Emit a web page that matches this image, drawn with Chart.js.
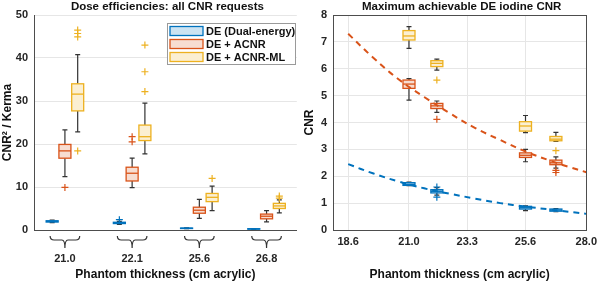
<!DOCTYPE html>
<html>
<head>
<meta charset="utf-8">
<script src="https://cdn.jsdelivr.net/npm/chart.js@4/dist/chart.umd.min.js"></script>
<style>
  html, body { margin: 0; padding: 0; background: #fff; }
  #wrap { width: 602px; height: 282px; display: flex; }
  canvas { display: block; }
</style>
</head>
<body>
<div id="wrap">
  <canvas id="chart_eff" width="302" height="282"></canvas>
  <canvas id="chart_cnr" width="300" height="282"></canvas>
</div>
<script>
const thicknessLabels = ['21.0', '22.1', '25.6', '26.8'];
const thicknessValues = [21.0, 22.1, 25.6, 26.8];
const seriesNames = ['DE (Dual-energy)', 'DE + ACNR', 'DE + ACNR-ML'];

// box stats: [whisker low, q1, median, q3, whisker high]
const effDE = [[1.7, 1.85, 2.0, 2.15, 2.3], [1.3, 1.5, 1.65, 1.8, 2.0], [0.3, 0.35, 0.4, 0.45, 0.5], [0.15, 0.2, 0.25, 0.3, 0.35]];
const effACNR = [[12.4, 16.7, 18.4, 19.9, 23.3], [9.85, 11.4, 13.2, 14.6, 16.7], [2.7, 3.9, 4.6, 5.3, 7.1], [1.9, 2.6, 3.2, 3.7, 4.5]];
const effML = [[22.8, 27.7, 31.6, 34.0, 40.8], [17.7, 20.8, 21.7, 24.4, 29.5], [4.5, 6.6, 7.6, 8.5, 10.2], [4.0, 5.0, 5.6, 6.2, 7.0]];
const effDEOut = [[], [2.4], [], []];
const effACNROut = [[9.9], [20.5, 21.7], [], []];
const effMLOut = [[18.4, 44.9, 45.7, 46.5], [32.2, 36.8, 43.0], [12.0], [7.4, 7.9]];

const cnrDE = [[1.65, 1.66, 1.7, 1.76, 1.78], [1.3, 1.38, 1.44, 1.5, 1.58], [0.72, 0.78, 0.83, 0.88, 0.9], [0.68, 0.7, 0.74, 0.78, 0.8]];
const cnrACNR = [[4.83, 5.27, 5.43, 5.58, 5.63], [4.38, 4.52, 4.62, 4.71, 4.8], [2.54, 2.7, 2.78, 2.87, 3.0], [2.3, 2.43, 2.5, 2.6, 2.72]];
const cnrML = [[6.76, 7.07, 7.22, 7.42, 7.57], [5.95, 6.08, 6.2, 6.3, 6.36], [3.62, 3.68, 3.87, 4.03, 4.26], [3.3, 3.32, 3.38, 3.48, 3.63]];
const cnrDEOut = [[], [1.22, 1.6], [], []];
const cnrACNROut = [[], [4.12], [], [2.14, 2.22]];
const cnrMLOut = [[], [5.58], [], [2.95]];

// dashed fit curves
const fitX = [18.6, 19.6, 20.6, 21.6, 22.6, 23.6, 24.6, 25.6, 26.6, 27.3, 28.0];
const fitACNR = [7.3, 6.4, 5.6, 4.95, 4.35, 3.8, 3.35, 2.92, 2.57, 2.35, 2.15];
const fitDE = [2.45, 2.1, 1.8, 1.55, 1.35, 1.17, 1.0, 0.87, 0.76, 0.68, 0.6];
const cnrXTicks = [18.6, 21.0, 23.3, 25.6, 28.0];

const colors = ['#0072BD', '#D95319', '#EDB120'];
const fills = ['rgba(0,114,189,0.2)', 'rgba(217,83,25,0.2)', 'rgba(237,177,32,0.2)'];
const axisColor = '#4d4d4d';
const gridColor = '#e6e6e6';
const fontFam = '"Liberation Sans", Arial, sans-serif';

Chart.defaults.font.family = fontFam;
Chart.defaults.color = '#262626';

function outlierPoints(out, xs, dx) {
  const pts = [];
  out.forEach(function (vals, i) {
    vals.forEach(function (v) { pts.push({ x: xs[i] + dx, y: v }); });
  });
  return pts;
}

function drawBox(ctx, xScale, yScale, xv, s, k) {
  const cx = xScale.getPixelForValue(xv);
  const y = s.map(function (v) { return yScale.getPixelForValue(v); });
  const hw = 6, cap = 2.5;
  ctx.save();
  ctx.strokeStyle = '#333';
  ctx.lineWidth = 1.2;
  ctx.beginPath();
  ctx.moveTo(cx, y[0]); ctx.lineTo(cx, y[1]);
  ctx.moveTo(cx, y[3]); ctx.lineTo(cx, y[4]);
  ctx.moveTo(cx - cap, y[0]); ctx.lineTo(cx + cap, y[0]);
  ctx.moveTo(cx - cap, y[4]); ctx.lineTo(cx + cap, y[4]);
  ctx.stroke();
  ctx.fillStyle = '#fff';
  ctx.fillRect(cx - hw, y[3], hw * 2, y[1] - y[3]);
  ctx.fillStyle = fills[k];
  ctx.fillRect(cx - hw, y[3], hw * 2, y[1] - y[3]);
  ctx.strokeStyle = colors[k];
  ctx.lineWidth = 1.3;
  ctx.strokeRect(cx - hw, y[3], hw * 2, y[1] - y[3]);
  ctx.beginPath();
  ctx.moveTo(cx - hw, y[2]); ctx.lineTo(cx + hw, y[2]);
  ctx.stroke();
  ctx.restore();
}

// title centred over the plot area, like the original axes titles
function axesTitle(text) {
  return {
    id: 'axesTitle',
    afterDraw(chart) {
      const a = chart.chartArea;
      const ctx = chart.ctx;
      ctx.save();
      ctx.font = 'bold 11.5px ' + fontFam;
      ctx.fillStyle = '#111';
      ctx.textAlign = 'center';
      ctx.textBaseline = 'middle';
      ctx.fillText(text, (a.left + a.right) / 2 + 2, 7);
      ctx.restore();
    }
  };
}

// ---------- left panel ----------
const catIdx = [0, 1, 2, 3];
const effSets = [effDE, effACNR, effML];
const effOut = [effDEOut, effACNROut, effMLOut];
const effDx = [-0.19, 0, 0.19];

const effBoxes = {
  id: 'effBoxes',
  beforeDatasetsDraw(chart) {
    const ctx = chart.ctx;
    effSets.forEach(function (set, k) {
      set.forEach(function (s, i) {
        drawBox(ctx, chart.scales.x, chart.scales.y, catIdx[i] + effDx[k], s, k);
      });
    });
  },
  afterDraw(chart) {
    const ctx = chart.ctx;
    const xs = chart.scales.x;
    const top = chart.chartArea.bottom + 6;
    // braces under each group
    ctx.save();
    ctx.strokeStyle = '#333';
    ctx.lineWidth = 1.2;
    catIdx.forEach(function (i) {
      const l = xs.getPixelForValue(i - 0.22);
      const r = xs.getPixelForValue(i + 0.22);
      const c = xs.getPixelForValue(i);
      ctx.beginPath();
      ctx.moveTo(l, top);
      ctx.quadraticCurveTo(l, top + 4, l + 4, top + 4);
      ctx.lineTo(c - 3, top + 4);
      ctx.quadraticCurveTo(c, top + 4, c, top + 12);
      ctx.quadraticCurveTo(c, top + 4, c + 3, top + 4);
      ctx.lineTo(r - 4, top + 4);
      ctx.quadraticCurveTo(r, top + 4, r, top);
      ctx.stroke();
    });
    // legend
    const lx = 167, ly = 23, lw = 128, lh = 41;
    ctx.fillStyle = '#fff';
    ctx.fillRect(lx, ly, lw, lh);
    ctx.strokeStyle = '#9a9a9a';
    ctx.lineWidth = 1;
    ctx.strokeRect(lx + 0.5, ly + 0.5, lw, lh);
    ctx.font = 'bold 11px ' + fontFam;
    ctx.textBaseline = 'middle';
    seriesNames.forEach(function (name, k) {
      const ry = ly + 8 + k * 13;
      ctx.fillStyle = fills[k];
      ctx.fillRect(lx + 3, ry - 4.5, 33, 9);
      ctx.strokeStyle = colors[k];
      ctx.lineWidth = 1.3;
      ctx.strokeRect(lx + 3, ry - 4.5, 33, 9);
      ctx.fillStyle = '#111';
      ctx.fillText(name, lx + 39, ry + 0.5);
    });
    ctx.restore();
  }
};

new Chart(document.getElementById('chart_eff'), {
  type: 'scatter',
  data: {
    datasets: effOut.map(function (out, k) {
      return {
        data: outlierPoints(out, catIdx, effDx[k]),
        pointStyle: 'cross',
        radius: 3.5,
        borderWidth: 1.2,
        borderColor: colors[k],
        backgroundColor: colors[k]
      };
    })
  },
  options: {
    responsive: false,
    animation: false,
    layout: { padding: { left: 0, right: 0, top: 15, bottom: 0 } },
    plugins: {
      legend: { display: false },
      tooltip: { enabled: false },
      title: { display: false }
    },
    scales: {
      x: {
        type: 'linear',
        min: -0.46,
        max: 3.45,
        afterBuildTicks: function (axis) {
          axis.ticks = catIdx.map(function (v) { return { value: v }; });
        },
        afterFit: function (axis) { axis.height = 52; },
        ticks: {
          padding: 22,
          maxRotation: 0,
          font: { size: 11, weight: 'bold' },
          callback: function (v) { return thicknessLabels[v]; }
        },
        grid: { display: false, drawTicks: false },
        border: { color: axisColor, width: 1 },
        title: {
          display: true,
          text: 'Phantom thickness (cm acrylic)',
          font: { size: 12, weight: 'bold' },
          color: '#111',
          padding: { top: 0, bottom: 0 }
        }
      },
      y: {
        min: 0,
        max: 50,
        afterFit: function (axis) { axis.width = 34; },
        ticks: { stepSize: 10, padding: 6, font: { size: 11, weight: 'bold' } },
        grid: { color: gridColor, drawTicks: false },
        border: { color: axisColor, width: 1 },
        title: {
          display: true,
          text: 'CNR² / Kerma',
          font: { size: 12, weight: 'bold' },
          color: '#111',
          padding: { top: 0, bottom: 0 }
        }
      }
    }
  },
  plugins: [effBoxes, axesTitle('Dose efficiencies: all CNR requests')]
});

// ---------- right panel ----------
const cnrSets = [cnrDE, cnrACNR, cnrML];
const cnrOut = [cnrDEOut, cnrACNROut, cnrMLOut];

const cnrBoxes = {
  id: 'cnrBoxes',
  beforeDatasetsDraw(chart) {
    const ctx = chart.ctx;
    cnrSets.forEach(function (set, k) {
      set.forEach(function (s, i) {
        drawBox(ctx, chart.scales.x, chart.scales.y, thicknessValues[i], s, k);
      });
    });
  },
  afterDraw(chart) {
    const a = chart.chartArea;
    const ctx = chart.ctx;
    ctx.save();
    ctx.strokeStyle = axisColor;
    ctx.lineWidth = 1;
    ctx.strokeRect(Math.round(a.left) + 0.5, Math.round(a.top) + 0.5, Math.round(a.right - a.left), Math.round(a.bottom - a.top));
    ctx.restore();
  }
};

const cnrDatasets = cnrOut.map(function (out, k) {
  return {
    type: 'scatter',
    data: outlierPoints(out, thicknessValues, 0),
    pointStyle: 'cross',
    radius: 3.5,
    borderWidth: 1.2,
    borderColor: colors[k],
    backgroundColor: colors[k]
  };
});
cnrDatasets.push({
  type: 'line',
  data: fitX.map(function (x, i) { return { x: x, y: fitACNR[i] }; }),
  borderColor: colors[1],
  borderWidth: 2,
  borderDash: [6, 5],
  pointRadius: 0,
  tension: 0.4,
  fill: false
});
cnrDatasets.push({
  type: 'line',
  data: fitX.map(function (x, i) { return { x: x, y: fitDE[i] }; }),
  borderColor: colors[0],
  borderWidth: 2,
  borderDash: [6, 5],
  pointRadius: 0,
  tension: 0.4,
  fill: false
});

new Chart(document.getElementById('chart_cnr'), {
  type: 'scatter',
  data: { datasets: cnrDatasets },
  options: {
    responsive: false,
    animation: false,
    layout: { padding: { left: 0, right: 14, top: 15, bottom: 0 } },
    plugins: {
      legend: { display: false },
      tooltip: { enabled: false },
      title: { display: false }
    },
    scales: {
      x: {
        type: 'linear',
        min: 18,
        max: 28,
        afterBuildTicks: function (axis) {
          axis.ticks = cnrXTicks.map(function (v) { return { value: v }; });
        },
        afterFit: function (axis) { axis.height = 52; },
        ticks: {
          padding: 5,
          maxRotation: 0,
          font: { size: 11, weight: 'bold' },
          callback: function (v) { return v.toFixed(1); }
        },
        grid: { color: gridColor, drawTicks: false },
        border: { color: axisColor, width: 1 },
        title: {
          display: true,
          text: 'Phantom thickness (cm acrylic)',
          font: { size: 12, weight: 'bold' },
          color: '#111',
          padding: { top: 0, bottom: 0 }
        }
      },
      y: {
        min: 0,
        max: 8,
        afterFit: function (axis) { axis.width = 31; },
        ticks: { stepSize: 1, padding: 6, font: { size: 11, weight: 'bold' } },
        grid: { color: gridColor, drawTicks: false },
        border: { color: axisColor, width: 1 },
        title: {
          display: true,
          text: 'CNR',
          font: { size: 12, weight: 'bold' },
          color: '#111',
          padding: { top: 0, bottom: 0 }
        }
      }
    }
  },
  plugins: [cnrBoxes, axesTitle('Maximum achievable DE iodine CNR')]
});
</script>
</body>
</html>
